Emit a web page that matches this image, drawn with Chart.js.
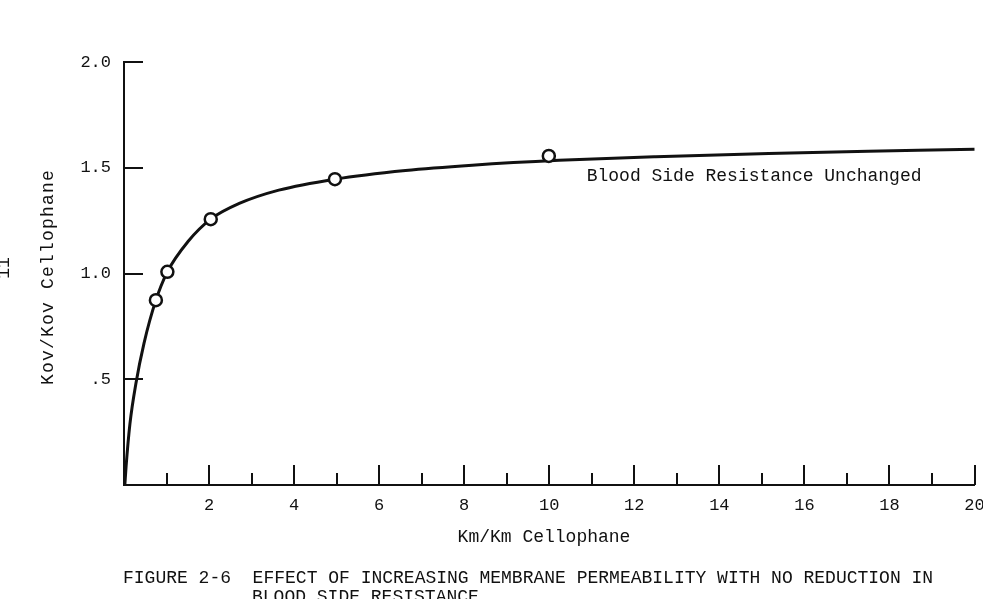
<!DOCTYPE html>
<html>
<head>
<meta charset="utf-8">
<title>Figure 2-6</title>
<script src="https://cdn.jsdelivr.net/npm/chart.js@4.4.0/dist/chart.umd.min.js"></script>
<style>
  html, body { margin: 0; padding: 0; background: #fff; overflow: hidden; }
  #wrap { width: 983px; height: 599px; }
</style>
</head>
<body>
<div id="wrap"><canvas id="chart" width="983" height="599"></canvas></div>
<script>
// smooth curve
var curveX = [0.02, 0.05, 0.14, 0.28, 0.47, 0.75, 1.02, 1.5, 2.04, 2.71, 3.64, 4.96, 6.62, 8.19, 10.23, 12.5, 15.16, 17.5, 20, 20.2];
var curveY = [0, 0.09, 0.29, 0.48, 0.67, 0.874, 1.008, 1.15, 1.257, 1.331, 1.394, 1.446, 1.487, 1.512, 1.535, 1.552, 1.567, 1.578, 1.588, 1.589];

// open circles
var pointX = [0.75, 1.02, 2.04, 4.96, 9.99];
var pointY = [0.874, 1.008, 1.257, 1.446, 1.556];

// axes
var xMajorTicks = [2, 4, 6, 8, 10, 12, 14, 16, 18, 20];
var xMinorTicks = [1, 3, 5, 7, 9, 11, 13, 15, 17, 19];
var xTickLabels = ['2', '4', '6', '8', '10', '12', '14', '16', '18', '20'];
var yTicks = [0.5, 1.0, 1.5, 2.0];
var yTickLabels = ['.5', '1.0', '1.5', '2.0'];

var xTitle = 'Km/Km Cellophane';
var yTitle = 'Kov/Kov Cellophane';
var curveNote = 'Blood Side Resistance Unchanged';
var caption1 = 'FIGURE 2-6  EFFECT OF INCREASING MEMBRANE PERMEABILITY WITH NO REDUCTION IN';
var caption2 = 'BLOOD SIDE RESISTANCE';

var ink = '#111';
var mono = '"Liberation Mono", "DejaVu Sans Mono", monospace';

Chart.defaults.font.family = mono;
Chart.defaults.color = ink;

// inward tick marks and the typed texts
var figurePlugin = {
    id: 'figure',
    afterDraw: function(chart) {
        var ctx = chart.ctx;
        var xs = chart.scales.x;
        var ys = chart.scales.y;
        var area = chart.chartArea;

        ctx.save();
        ctx.strokeStyle = ink;
        ctx.lineWidth = 2;
        ctx.lineCap = 'butt';
        ctx.beginPath();
        xMajorTicks.forEach(function(v) {
            var px = Math.round(xs.getPixelForValue(v));
            ctx.moveTo(px, area.bottom);
            ctx.lineTo(px, area.bottom - 20);
        });
        xMinorTicks.forEach(function(v) {
            var px = Math.round(xs.getPixelForValue(v));
            ctx.moveTo(px, area.bottom);
            ctx.lineTo(px, area.bottom - 12);
        });
        yTicks.forEach(function(v) {
            var py = Math.round(ys.getPixelForValue(v));
            ctx.moveTo(area.left, py);
            ctx.lineTo(area.left + 19, py);
        });
        ctx.stroke();

        ctx.fillStyle = ink;
        ctx.font = '18px ' + mono;
        ctx.textBaseline = 'alphabetic';

        ctx.textAlign = 'left';
        ctx.fillText(curveNote, xs.getPixelForValue(10.88), 181);

        ctx.textAlign = 'center';
        ctx.fillText(xTitle, 544, 542);

        ctx.textAlign = 'left';
        ctx.fillText(caption1, 123, 583);
        ctx.fillText(caption2, 252, 602);

        // rotated y title
        ctx.save();
        ctx.translate(48, 277);
        ctx.rotate(-Math.PI / 2);
        ctx.textAlign = 'center';
        ctx.textBaseline = 'middle';
        ctx.letterSpacing = '1.2px';
        ctx.fillText(yTitle, 0, 0);
        ctx.restore();

        // page number at the edge of the scan
        ctx.save();
        ctx.translate(4, 268);
        ctx.rotate(-Math.PI / 2);
        ctx.textAlign = 'center';
        ctx.textBaseline = 'middle';
        ctx.fillText('11', 0, 0);
        ctx.restore();

        ctx.restore();
    }
};

var ctx = document.getElementById('chart').getContext('2d');
new Chart(ctx, {
    type: 'scatter',
    data: {
        datasets: [{
            label: 'measured',
            data: pointX.map(function(x, i) { return { x: x, y: pointY[i] }; }),
            showLine: false,
            pointRadius: 6,
            pointBorderWidth: 2.5,
            pointBackgroundColor: '#fff',
            pointBorderColor: ink,
            order: 0
        }, {
            label: 'curve',
            data: curveX.map(function(x, i) { return { x: x, y: curveY[i] }; }),
            showLine: true,
            borderColor: ink,
            borderWidth: 3,
            pointRadius: 0,
            cubicInterpolationMode: 'monotone',
            clip: false,
            order: 1
        }]
    },
    options: {
        responsive: false,
        animation: false,
        devicePixelRatio: 1,
        layout: { padding: { top: 62, right: 7, left: 0, bottom: 0 } },
        plugins: {
            legend: { display: false },
            tooltip: { enabled: false }
        },
        scales: {
            x: {
                type: 'linear',
                min: 0,
                max: 20,
                grid: { display: false, drawTicks: false },
                border: { display: true, color: ink, width: 2 },
                afterBuildTicks: function(scale) {
                    scale.ticks = xMajorTicks.map(function(v) { return { value: v }; });
                },
                afterFit: function(scale) {
                    scale.height = 114;
                    scale.paddingLeft = 0;
                    scale.paddingRight = 0;
                },
                ticks: {
                    autoSkip: false,
                    maxRotation: 0,
                    minRotation: 0,
                    padding: 10,
                    font: { size: 17 },
                    color: ink,
                    callback: function(value, index) { return xTickLabels[index]; }
                }
            },
            y: {
                type: 'linear',
                min: 0,
                max: 2,
                grid: { display: false, drawTicks: false },
                border: { display: true, color: ink, width: 2 },
                afterBuildTicks: function(scale) {
                    scale.ticks = yTicks.map(function(v) { return { value: v }; });
                },
                afterFit: function(scale) {
                    scale.width = 124;
                    scale.paddingTop = 0;
                    scale.paddingBottom = 0;
                },
                ticks: {
                    padding: 13,
                    font: { size: 17 },
                    color: ink,
                    callback: function(value, index) { return yTickLabels[index]; }
                }
            }
        }
    },
    plugins: [figurePlugin]
});
</script>
</body>
</html>
